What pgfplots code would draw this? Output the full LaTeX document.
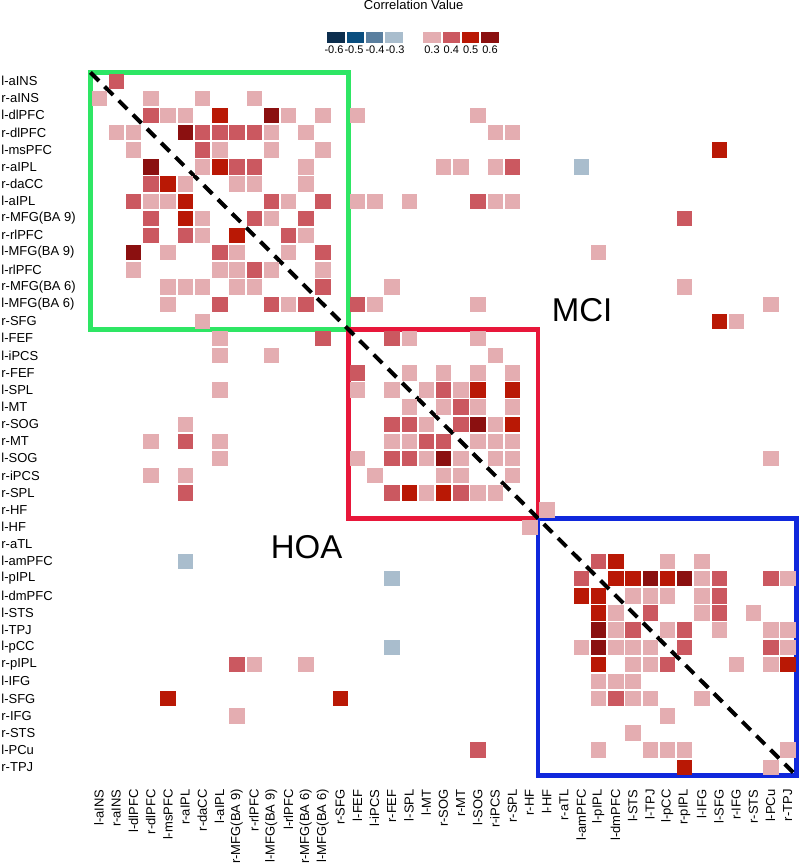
\documentclass[border=0pt]{standalone}
\usepackage{fontspec}
\setmainfont{Liberation Sans}
\usepackage{pgfplots}
\pgfplotsset{compat=1.18}
\definecolor{nsix}{HTML}{0C2E4E}
\definecolor{nfive}{HTML}{0A4E7F}
\definecolor{nfour}{HTML}{5A7F9F}
\definecolor{nthree}{HTML}{A9BDCD}
\definecolor{pthree}{HTML}{E4ADB1}
\definecolor{pfour}{HTML}{CB5860}
\definecolor{pfive}{HTML}{B91805}
\definecolor{psix}{HTML}{8B1010}
\definecolor{boxgreen}{HTML}{2EE664}
\definecolor{boxred}{HTML}{E8173A}
\definecolor{boxblue}{HTML}{1028DC}
\newcommand\tl{\fontsize{6.5}{7}\selectfont}

% cells: column, row, class (l=0.3, m=0.4, b=0.5, d=0.6, n=-0.3)
\pgfplotstableread{
x y c
2 1 m
1 2 l
4 2 l
7 2 l
10 2 l
4 3 m
5 3 l
6 3 l
8 3 b
11 3 d
12 3 l
14 3 l
16 3 l
23 3 l
2 4 l
3 4 l
6 4 d
7 4 m
8 4 m
9 4 m
10 4 m
11 4 l
13 4 l
24 4 l
25 4 l
3 5 l
7 5 m
8 5 l
11 5 l
14 5 l
37 5 b
4 6 d
7 6 l
8 6 b
9 6 m
10 6 m
13 6 l
21 6 l
22 6 l
24 6 l
25 6 m
29 6 n
4 7 m
5 7 b
6 7 l
9 7 l
10 7 l
13 7 l
3 8 m
4 8 l
5 8 l
6 8 b
11 8 m
12 8 l
14 8 m
16 8 l
17 8 l
19 8 l
23 8 m
24 8 l
25 8 l
4 9 m
6 9 b
7 9 l
10 9 m
11 9 l
13 9 m
35 9 m
4 10 m
6 10 m
7 10 l
9 10 b
12 10 m
13 10 l
3 11 d
5 11 l
8 11 m
9 11 l
12 11 l
14 11 m
30 11 l
3 12 l
8 12 l
9 12 l
10 12 m
11 12 l
14 12 l
5 13 l
6 13 l
7 13 l
9 13 l
10 13 l
14 13 m
18 13 l
35 13 l
5 14 l
8 14 m
11 14 m
12 14 l
13 14 m
16 14 m
17 14 l
23 14 l
40 14 l
7 15 l
37 15 b
38 15 l
8 16 l
14 16 m
18 16 m
19 16 l
23 16 l
8 17 l
11 17 l
24 17 l
16 18 m
19 18 l
21 18 l
23 18 l
25 18 l
8 19 l
16 19 l
18 19 l
20 19 l
21 19 m
22 19 l
23 19 b
25 19 b
19 20 l
21 20 l
22 20 m
23 20 l
25 20 l
6 21 l
18 21 m
19 21 m
20 21 l
22 21 m
23 21 d
24 21 l
25 21 b
4 22 l
6 22 m
8 22 l
18 22 l
19 22 l
20 22 m
21 22 m
23 22 l
24 22 l
25 22 l
8 23 l
16 23 l
18 23 m
19 23 m
20 23 l
21 23 d
22 23 l
24 23 l
25 23 l
40 23 l
4 24 l
6 24 l
17 24 l
21 24 l
22 24 l
25 24 l
6 25 m
18 25 m
19 25 b
20 25 l
21 25 b
22 25 m
23 25 l
24 25 l
27 26 l
26 27 l
6 29 n
30 29 m
31 29 b
34 29 l
36 29 l
18 30 n
29 30 m
31 30 b
32 30 b
33 30 d
34 30 b
35 30 d
36 30 l
37 30 m
40 30 m
41 30 l
29 31 b
30 31 b
32 31 l
33 31 l
34 31 l
36 31 l
37 31 m
30 32 b
31 32 l
33 32 m
36 32 l
37 32 m
39 32 l
30 33 d
31 33 l
32 33 m
34 33 l
35 33 m
37 33 l
40 33 l
41 33 l
18 34 n
29 34 l
30 34 d
31 34 l
32 34 l
33 34 l
35 34 m
40 34 m
41 34 l
9 35 m
10 35 l
13 35 l
30 35 b
32 35 l
33 35 l
34 35 m
38 35 l
40 35 l
41 35 b
30 36 l
31 36 l
32 36 l
5 37 b
15 37 b
30 37 l
31 37 m
32 37 l
33 37 l
36 37 l
9 38 l
34 38 l
32 39 l
23 40 m
30 40 l
33 40 l
34 40 l
35 40 l
41 40 l
35 41 b
40 41 l
}\cells

\begin{document}
\begin{tikzpicture}
\useasboundingbox (-45.2pt,-44.7pt) rectangle (354.8pt,387.8pt);
\begin{axis}[at={(0,0)},anchor=south west,scale only axis,
  width=353pt,height=351.6pt,
  xmin=0.5,xmax=41.5,ymin=0.5,ymax=41.5,y dir=reverse,clip=false,
  axis line style={draw=none},major tick length=0pt,
  xtick={1,...,41},ytick={1,...,41},
  xticklabels={{l-aINS},{r-aINS},{l-dlPFC},{r-dlPFC},{l-msPFC},{r-aIPL},{r-daCC},{l-aIPL},{r-MFG(BA 9)},{r-rlPFC},{l-MFG(BA 9)},{l-rlPFC},{r-MFG(BA 6)},{l-MFG(BA 6)},{r-SFG},{l-FEF},{l-iPCS},{r-FEF},{l-SPL},{l-MT},{r-SOG},{r-MT},{l-SOG},{r-iPCS},{r-SPL},{r-HF},{l-HF},{r-aTL},{l-amPFC},{l-pIPL},{l-dmPFC},{l-STS},{l-TPJ},{l-pCC},{r-pIPL},{l-IFG},{l-SFG},{r-IFG},{r-STS},{l-PCu},{r-TPJ}},
  yticklabels={{l-aINS},{r-aINS},{l-dlPFC},{r-dlPFC},{l-msPFC},{r-aIPL},{r-daCC},{l-aIPL},{r-MFG(BA 9)},{r-rlPFC},{l-MFG(BA 9)},{l-rlPFC},{r-MFG(BA 6)},{l-MFG(BA 6)},{r-SFG},{l-FEF},{l-iPCS},{r-FEF},{l-SPL},{l-MT},{r-SOG},{r-MT},{l-SOG},{r-iPCS},{r-SPL},{r-HF},{l-HF},{r-aTL},{l-amPFC},{l-pIPL},{l-dmPFC},{l-STS},{l-TPJ},{l-pCC},{r-pIPL},{l-IFG},{l-SFG},{r-IFG},{r-STS},{l-PCu},{r-TPJ}},
  xticklabel style={rotate=90,anchor=east,inner sep=0pt,font=\tl},
  xticklabel shift=6.7pt,
  yticklabel style={anchor=west,inner sep=0pt,font=\tl},
  yticklabel shift=44.7pt]
\addplot[scatter,only marks,mark=square*,mark size=3.6pt,
  scatter src=explicit symbolic,
  scatter/classes={
    l={mark=square*,fill=pthree,draw=pthree,line width=0.2pt},
    m={mark=square*,fill=pfour,draw=pfour,line width=0.2pt},
    b={mark=square*,fill=pfive,draw=pfive,line width=0.2pt},
    d={mark=square*,fill=psix,draw=psix,line width=0.2pt},
    n={mark=square*,fill=nthree,draw=nthree,line width=0.2pt}}]
  table[x=x,y=y,meta=c] {\cells};
\draw[boxgreen,line width=2.25pt] (axis cs:0.5,0.5) rectangle (axis cs:15.5,15.5);
\draw[boxred,line width=2.25pt] (axis cs:15.5,15.5) rectangle (axis cs:26.5,26.5);
\draw[boxblue,line width=2.25pt] (axis cs:26.5,26.5) rectangle (axis cs:41.5,41.5);
\draw[black,line width=2pt,dash pattern=on 6pt off 4pt] (axis cs:0.5,0.5) -- (axis cs:41.5,41.5);
\node[font=\fontsize{16.5}{18}\selectfont] at (axis cs:29.05,14.35) {MCI};
\node[font=\fontsize{16.5}{18}\selectfont] at (axis cs:13.06,28.2) {HOA};
\end{axis}
% legend, in pixel units of the reference
\begin{scope}[shift={(-45.2pt,387.8pt)},x=0.5pt,y=-0.5pt]
\node[font=\tl,anchor=base,inner sep=0pt] at (413.7,10) {Correlation Value};
\fill[nsix] (327.3,32.3) rectangle (344.7,42.7);
\fill[nfive] (346.7,32.3) rectangle (364,42.7);
\fill[nfour] (366,32.3) rectangle (383.3,42.7);
\fill[nthree] (385.3,32.3) rectangle (402.7,42.7);
\fill[pthree] (423.3,32.3) rectangle (440.7,42.7);
\fill[pfour] (442.7,32.3) rectangle (460,42.7);
\fill[pfive] (462,32.3) rectangle (479.3,42.7);
\fill[psix] (481.3,32.3) rectangle (498.7,42.7);
\foreach \xx/\tt in {334/-0.6,354/-0.5,375/-0.4,395/-0.3,432/0.3,451.3/0.4,470.7/0.5,490/0.6}
  \node[font=\fontsize{5.5}{6}\selectfont,anchor=base,inner sep=0pt] at (\xx,54) {\tt};
\end{scope}
\end{tikzpicture}
\end{document}
